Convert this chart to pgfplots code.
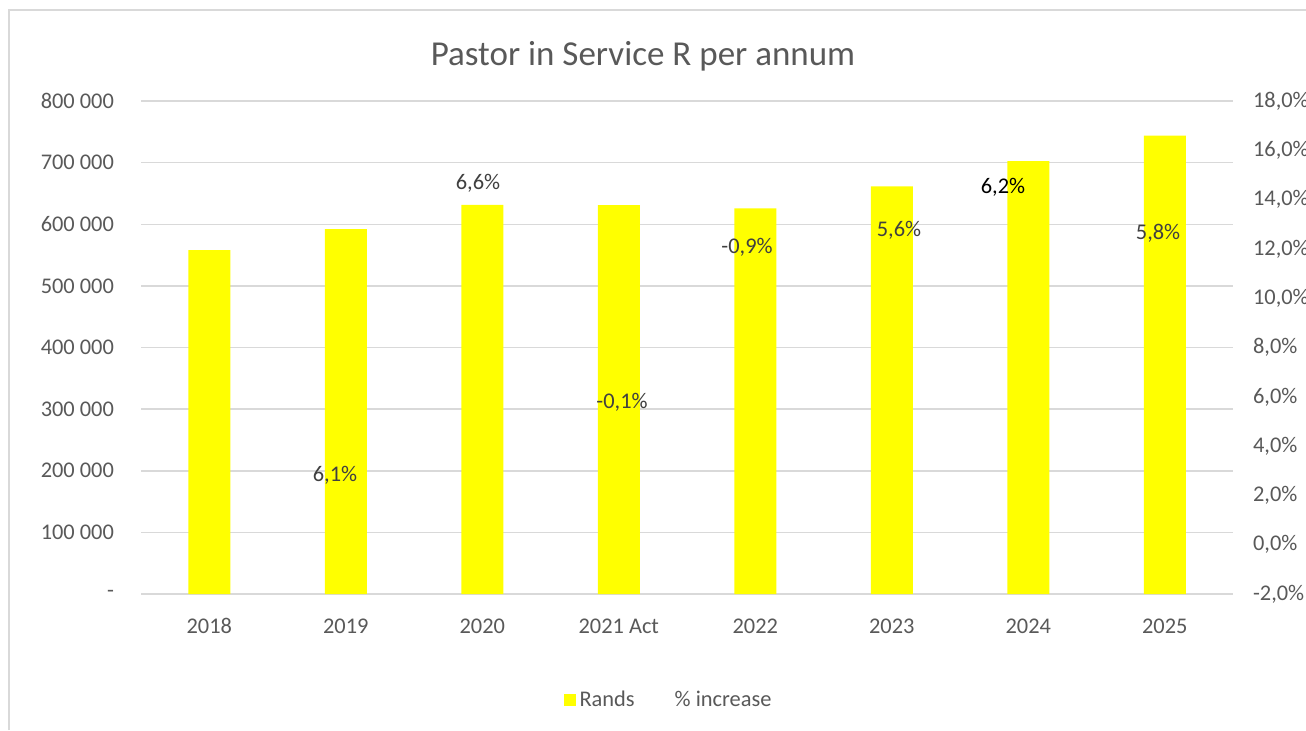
\documentclass[border=0pt]{standalone}
\usepackage{pgfplots}
\pgfplotsset{compat=1.18}
\usepackage{fontspec}
\setmainfont{Carlito}
\definecolor{txt}{HTML}{595959}
\definecolor{grd}{HTML}{D9D9D9}
\definecolor{barY}{HTML}{FFFF00}
\definecolor{lbl}{HTML}{404040}
\begin{document}
\begin{tikzpicture}
\useasboundingbox (0,0) rectangle (653pt,365pt);
\clip (0,0) rectangle (653pt,365pt);
\fill[white] (0,0) rectangle (653pt,365pt);
\draw[grd, line width=1pt] (4.5pt,0) -- (4.5pt,360pt) -- (653pt,360pt);
\node[text=txt, font=\fontsize{17.5}{20}\selectfont] at (321.5pt,337pt) {Pastor in Service R per annum};
\begin{axis}[
  at={(70.5pt,68pt)}, anchor=south west, scale only axis,
  width=546pt, height=246.5pt,
  xmin=-0.5, xmax=7.5, ymin=0, ymax=800000,
  scaled y ticks=false,
  xtick={0,...,7},
  xticklabels={2018,2019,2020,2021 Act,2022,2023,2024,2025},
  ytick={0,100000,200000,300000,400000,500000,600000,700000,800000},
  yticklabels={-,100 000,200 000,300 000,400 000,500 000,600 000,700 000,800 000},
  axis x line*=bottom, axis y line*=left,
  y axis line style={draw=none},
  x axis line style={grd, line width=0.75pt},
  ymajorgrids, grid style={grd, line width=0.75pt},
  major tick length=0pt,
  tick style={draw=none},
  ticklabel style={text=txt, font=\fontsize{11.2}{13}\selectfont},
  yticklabel style={xshift=-10pt},
  xticklabel style={yshift=-8pt, text height=8pt, text depth=2pt},
  legend style={at={(0.484,-0.215)}, anchor=center, draw=none, fill=none,
    legend columns=2, font=\fontsize{11.2}{13}\selectfont, text=txt,
    /tikz/every even column/.append style={column sep=6pt}},
]
\addplot[ybar, bar width=21pt, fill=barY, draw=none,
  legend image code/.code={\fill[barY] (0pt,-3pt) rectangle (6pt,3pt);}]
  coordinates {(0,558200) (1,592300) (2,631300) (3,631000) (4,625800) (5,661600) (6,702600) (7,743700)};
\addlegendentry{Rands}
\addlegendimage{draw=none, legend image code/.code={\path[draw=none] (0pt,0pt) -- (10pt,0pt);}}
\addlegendentry{\% increase}
\end{axis}
\begin{axis}[
  at={(70.5pt,68pt)}, anchor=south west, scale only axis,
  width=546pt, height=246.5pt,
  xmin=-0.5, xmax=7.5, ymin=-2, ymax=18,
  axis x line=none, axis y line*=right,
  y axis line style={draw=none},
  major tick length=0pt, tick style={draw=none},
  ytick={-2,0,2,4,6,8,10,12,14,16,18},
  /pgf/number format/assume math mode=true,
  yticklabel={\pgfmathprintnumber[fixed, fixed zerofill, precision=1, use comma]{\tick}\%},
  ticklabel style={text=txt, font=\fontsize{11.2}{13}\selectfont},
  yticklabel style={xshift=6.5pt},
  clip=false,
]
\addplot[draw=none, mark=none, nodes near coords, point meta=explicit symbolic,
  nodes near coords style={anchor=center},
  every node near coord/.append style={anchor=center, text=lbl, font=\fontsize{11.2}{13}\selectfont}]
  coordinates {
  (0.921,2.83) [6,1\%]
  (1.969,14.67) [6,6\%]
  (3.024,5.79) [-0,1\%]
  (3.940,12.08) [-0,9\%]
  (5.053,12.77) [5,6\%]
  (5.815,14.51) [\textcolor{black}{6,2\%}]
  (6.951,12.65) [5,8\%]
  };
\end{axis}
\end{tikzpicture}
\end{document}
